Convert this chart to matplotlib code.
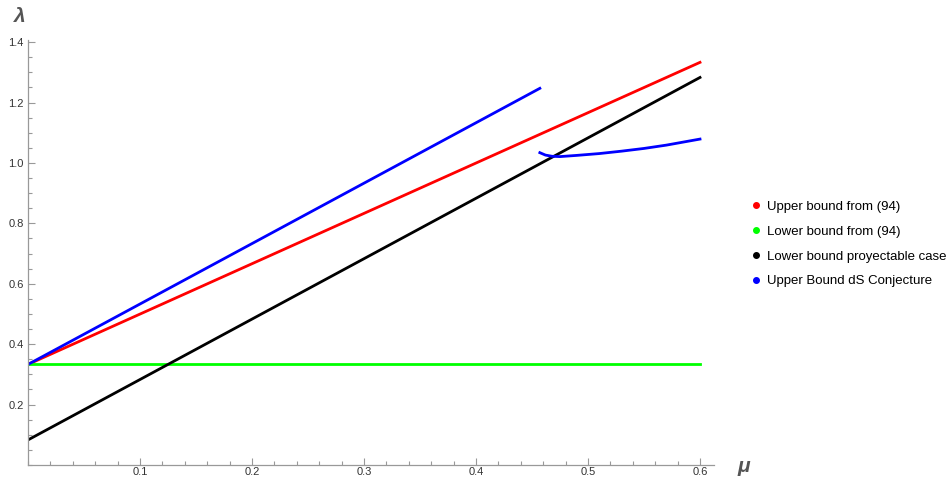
import matplotlib.pyplot as plt
from matplotlib.lines import Line2D
from matplotlib.ticker import MultipleLocator

plt.rcParams['font.family'] = ['Liberation Sans', 'DejaVu Sans']

# straight bounds, read at the ends of the plotted range
mu_ends = [0.0, 0.6]
upper_94 = [0.333, 1.333]
lower_94 = [0.333, 0.333]
lower_proj = [0.083, 1.283]

# dS conjecture upper bound: straight branch and curved branch
mu_ds_line = [0.0, 0.457]
lam_ds_line = [0.333, 1.247]
mu_ds_curve = [0.457, 0.462, 0.468, 0.475, 0.49, 0.51, 0.53, 0.55, 0.57, 0.6]
lam_ds_curve = [1.034, 1.026, 1.022, 1.021, 1.025, 1.031, 1.039, 1.048, 1.059, 1.079]

labels = ["Upper bound from (94)", "Lower bound from (94)",
          "Lower bound proyectable case", "Upper Bound dS Conjecture"]
colors = ["#ff0000", "#00ff00", "#000000", "#0000ff"]


def main():
    fig = plt.figure(figsize=(9.51, 4.78), dpi=100)
    ax = fig.add_axes([28 / 951, 13 / 478, 686 / 951, 425 / 478])

    lw = 2.0
    ax.plot(mu_ends, upper_94, color=colors[0], lw=lw)
    ax.plot(mu_ends, lower_94, color=colors[1], lw=lw)
    ax.plot(mu_ends, lower_proj, color=colors[2], lw=lw)
    ax.plot(mu_ds_line, lam_ds_line, color=colors[3], lw=lw)
    ax.plot(mu_ds_curve, lam_ds_curve, color=colors[3], lw=lw)

    ax.set_xlim(0, 0.6125)
    ax.set_ylim(0, 1.407)
    for side in ("top", "right"):
        ax.spines[side].set_visible(False)
    for side in ("left", "bottom"):
        ax.spines[side].set_color("#999999")
        ax.spines[side].set_linewidth(0.9)

    ax.xaxis.set_minor_locator(MultipleLocator(0.02))
    ax.yaxis.set_minor_locator(MultipleLocator(0.05))
    ax.set_xticks([0.1, 0.2, 0.3, 0.4, 0.5, 0.6])
    ax.set_xticklabels(["0.1", "0.2", "0.3", "0.4", "0.5", "0.6"])
    ax.set_yticks([0.2, 0.4, 0.6, 0.8, 1.0, 1.2, 1.4])
    ax.set_yticklabels(["0.2", "0.4", "0.6", "0.8", "1.0", "1.2", "1.4"])
    ax.tick_params(which="both", direction="in", color="#999999",
                   labelsize=8, labelcolor="#333333", width=0.8)
    ax.tick_params(which="major", length=5)
    ax.tick_params(which="minor", length=3)
    ax.tick_params(axis="x", pad=1.5)
    ax.tick_params(axis="y", pad=3)

    fig.text(20 / 951, 1 - 17 / 478, "λ", fontsize=15, fontweight="bold",
             color="#555555", ha="center", va="center", style="italic")
    fig.text(744 / 951, 1 - 466 / 478, "μ", fontsize=15, fontweight="bold",
             color="#555555", ha="center", va="center", style="italic")

    handles = [Line2D([], [], marker="o", ls="", color=c, markersize=4)
               for c in colors]
    fig.legend(handles, labels, loc="center left",
               bbox_to_anchor=(743 / 951, 1 - 244 / 478), frameon=False,
               fontsize=9.5, handletextpad=0.3, labelspacing=0.95,
               handlelength=1.0, borderpad=0)

    fig.savefig("out.png", dpi=100)


if __name__ == "__main__":
    main()
